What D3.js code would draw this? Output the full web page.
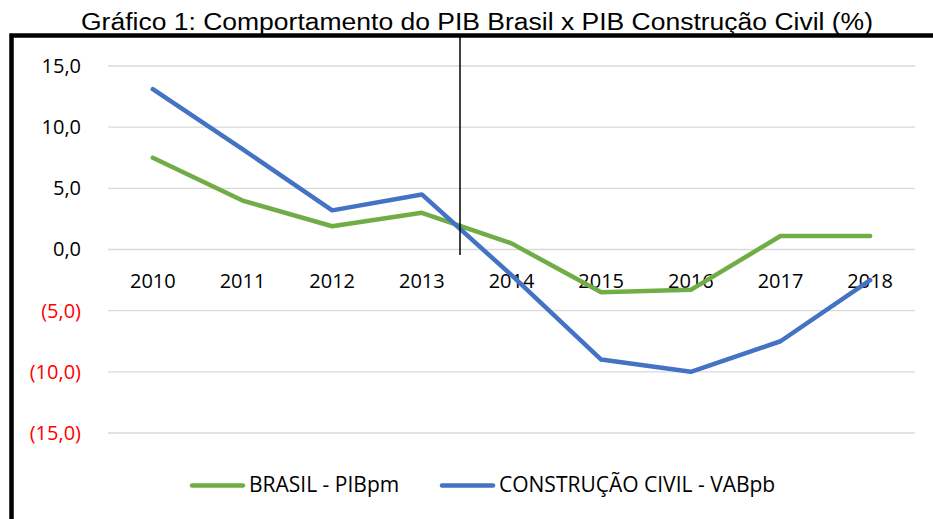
<!DOCTYPE html>
<html>
<head>
<meta charset="utf-8">
<script src="https://cdn.jsdelivr.net/npm/d3@7"></script>
<style>
  body { margin: 0; background: #fff; }
  svg { display: block; }
</style>
</head>
<body>
<div id="chart"></div>
<script>
// chart data
var years = ["2010", "2011", "2012", "2013", "2014", "2015", "2016", "2017", "2018"];
var brasil = [7.5, 4.0, 1.9, 3.0, 0.5, -3.5, -3.3, 1.1, 1.1];
var construcao = [13.1, 8.2, 3.2, 4.5, -2.1, -9.0, -10.0, -7.5, -2.5];
var yTicks = [15, 10, 5, 0, -5, -10, -15];
var seriesNames = ["BRASIL - PIBpm", "CONSTRUÇÃO CIVIL - VABpb"];

var W = 933, H = 519;
var svg = d3.select("#chart").append("svg").attr("width", W).attr("height", H);

// title
svg.append("text")
   .attr("x", 477).attr("y", 29.5)
   .attr("text-anchor", "middle")
   .attr("font-family", "Liberation Sans, Arial, sans-serif")
   .attr("font-size", "23.5px")
   .attr("textLength", 792)
   .attr("lengthAdjust", "spacingAndGlyphs")
   .attr("fill", "#000")
   .text("Gráfico 1: Comportamento do PIB Brasil x PIB Construção Civil (%)");

// frame (left + top border)
svg.append("path")
   .attr("d", "M11.5," + H + " L11.5,35.5 L" + W + ",35.5")
   .attr("fill", "none").attr("stroke", "#000").attr("stroke-width", 4.5);

var x = d3.scaleBand().domain(years).range([108, 915]);
var y = d3.scaleLinear().domain([-15, 15]).range([433, 66]);

// gridlines
svg.append("g").selectAll("line")
   .data(yTicks).enter().append("line")
   .attr("x1", 108).attr("x2", 915)
   .attr("y1", function(d) { return y(d); })
   .attr("y2", function(d) { return y(d); })
   .attr("stroke", "#d9d9d9").attr("stroke-width", 1.3);

// y axis labels
var fmt = function(d) {
  var s = Math.abs(d).toFixed(1).replace(".", ",");
  return d < 0 ? "(" + s + ")" : s;
};
var yAxis = d3.axisLeft(y).tickValues(yTicks).tickSize(0).tickPadding(0).tickFormat(fmt);
var gy = svg.append("g").attr("transform", "translate(81,0)").call(yAxis);
gy.select(".domain").remove();
gy.selectAll("text")
   .attr("font-family", "Open Sans, sans-serif")
   .attr("font-size", "20px")
   .attr("fill", function(d) { return d < 0 ? "#ff0000" : "#000"; });

// x axis labels (below zero line)
var xAxis = d3.axisBottom(x).tickSize(0).tickPadding(0);
var gx = svg.append("g").attr("transform", "translate(0," + (y(0) + 24) + ")").call(xAxis);
gx.select(".domain").remove();
gx.selectAll("text")
   .attr("font-family", "Open Sans, sans-serif")
   .attr("font-size", "20px")
   .attr("fill", "#000");

// lines
var line = d3.line()
   .x(function(d, i) { return x(years[i]) + x.bandwidth() / 2; })
   .y(function(d) { return y(d); });

var colors = ["#70ad47", "#4472c4"];
[brasil, construcao].forEach(function(s, i) {
  svg.append("path")
     .datum(s)
     .attr("d", line)
     .attr("fill", "none")
     .attr("stroke", colors[i])
     .attr("stroke-width", 4.5)
     .attr("stroke-linejoin", "round")
     .attr("stroke-linecap", "round");
});

// thin vertical marker line
svg.append("line")
   .attr("x1", 460).attr("x2", 460)
   .attr("y1", 36).attr("y2", 255)
   .attr("stroke", "#000").attr("stroke-width", 1.5);

// legend
var legend = [{x: 192}, {x: 442}];
legend.forEach(function(l, i) {
  svg.append("line")
     .attr("x1", l.x).attr("x2", l.x + 51)
     .attr("y1", 485.5).attr("y2", 485.5)
     .attr("stroke", colors[i]).attr("stroke-width", 4.5)
     .attr("stroke-linecap", "round");
  svg.append("text")
     .attr("x", l.x + 57).attr("y", 492)
     .attr("font-family", "Open Sans, sans-serif")
     .attr("font-size", "21px")
     .attr("fill", "#000")
     .text(seriesNames[i]);
});
</script>
</body>
</html>
